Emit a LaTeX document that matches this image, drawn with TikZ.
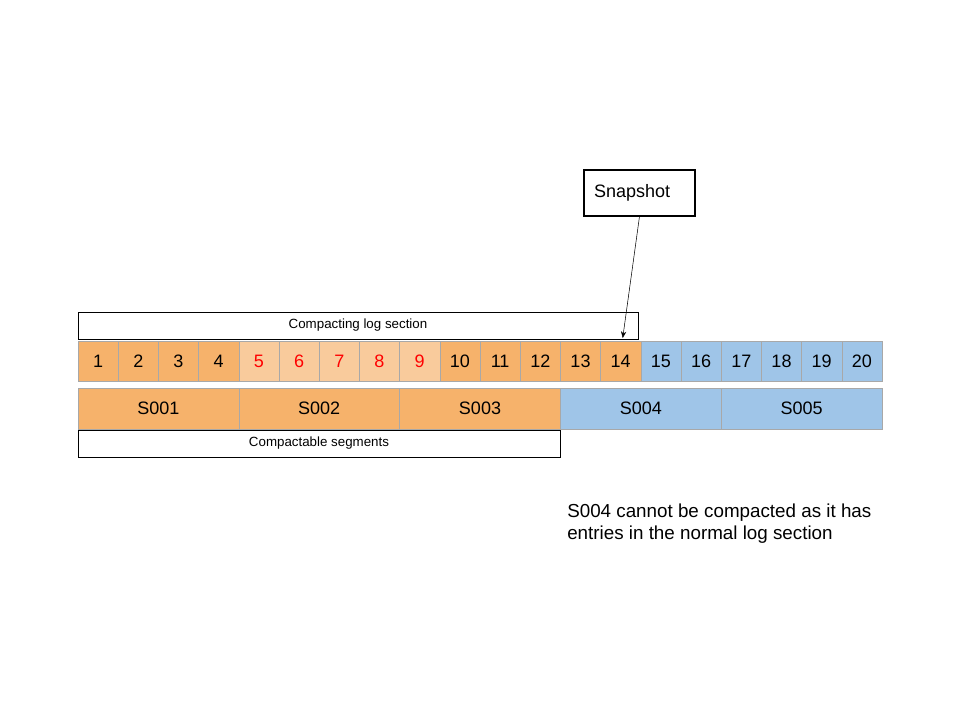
\documentclass[tikz,border=0pt]{standalone}
\usepackage{fontspec}
\setmainfont{Liberation Sans}
\usetikzlibrary{arrows.meta,positioning}
\definecolor{segorange}{HTML}{F6B26B}
\definecolor{seglight}{HTML}{F9CB9C}
\definecolor{segblue}{HTML}{9FC5E8}
\definecolor{cellline}{HTML}{A8A8A8}
\tikzset{
  cell/.style={draw=cellline, minimum width=30.15pt, minimum height=30pt,
    inner sep=0pt, font=\fontsize{13.5}{16}\selectfont},
  segbox/.style={draw=cellline, minimum width=120.6pt, minimum height=30.75pt,
    inner sep=0pt, font=\fontsize{13.5}{16}\selectfont},
  labelbox/.style={draw, thin, inner sep=0pt, font=\fontsize{10}{12}\selectfont}
}
\begin{document}
\begin{tikzpicture}[x=0.75pt, y=-0.75pt]
    \useasboundingbox (0,0) rectangle (960,720);
    %Log entries
    \foreach \i in {1,...,20}{
      \ifnum\i<5 \def\cfill{segorange}\def\ctext{black}\fi
      \ifnum\i>4 \def\cfill{seglight}\def\ctext{red}\fi
      \ifnum\i>9 \def\cfill{segorange}\def\ctext{black}\fi
      \ifnum\i>14 \def\cfill{segblue}\def\ctext{black}\fi
      \node[cell, fill=\cfill, text=\ctext] (c\i) at ({78+40.2*(\i-0.5)},361) {\i};
    }
    %Segments
    \foreach \j/\sfill in {1/segorange,2/segorange,3/segorange,4/segblue,5/segblue}{
      \node[segbox, fill=\sfill] (s\j) at ({78+160.8*(\j-0.5)},408.5) {S00\j};
    }
    %Sections
    \node[labelbox, minimum width=420pt, minimum height=20.25pt] (logsec) at (358,325.5) {Compacting log section};
    \node[labelbox, minimum width=361.5pt, minimum height=20.25pt] (segsec) at (319,443.5) {Compactable segments};
    %Snapshot
    \node[draw, line width=1.6pt, text width=68pt, align=left, inner xsep=7.5pt,
      minimum height=34.5pt, font=\fontsize{13.5}{16}\selectfont, anchor=north west] (snap) at (583,169) {Snapshot};
    \draw[-{Stealth[length=5pt,width=4pt]}] (snap.south) -- ([xshift=1.5pt,yshift=2pt]c14.north);
    %Note
    \node[anchor=north west, align=left, inner sep=0pt, font=\fontsize{14.1}{16.5}\selectfont] (note) at (567,503.5)
      {S004 cannot be compacted as it has\\entries in the normal log section};
\end{tikzpicture}
\end{document}
